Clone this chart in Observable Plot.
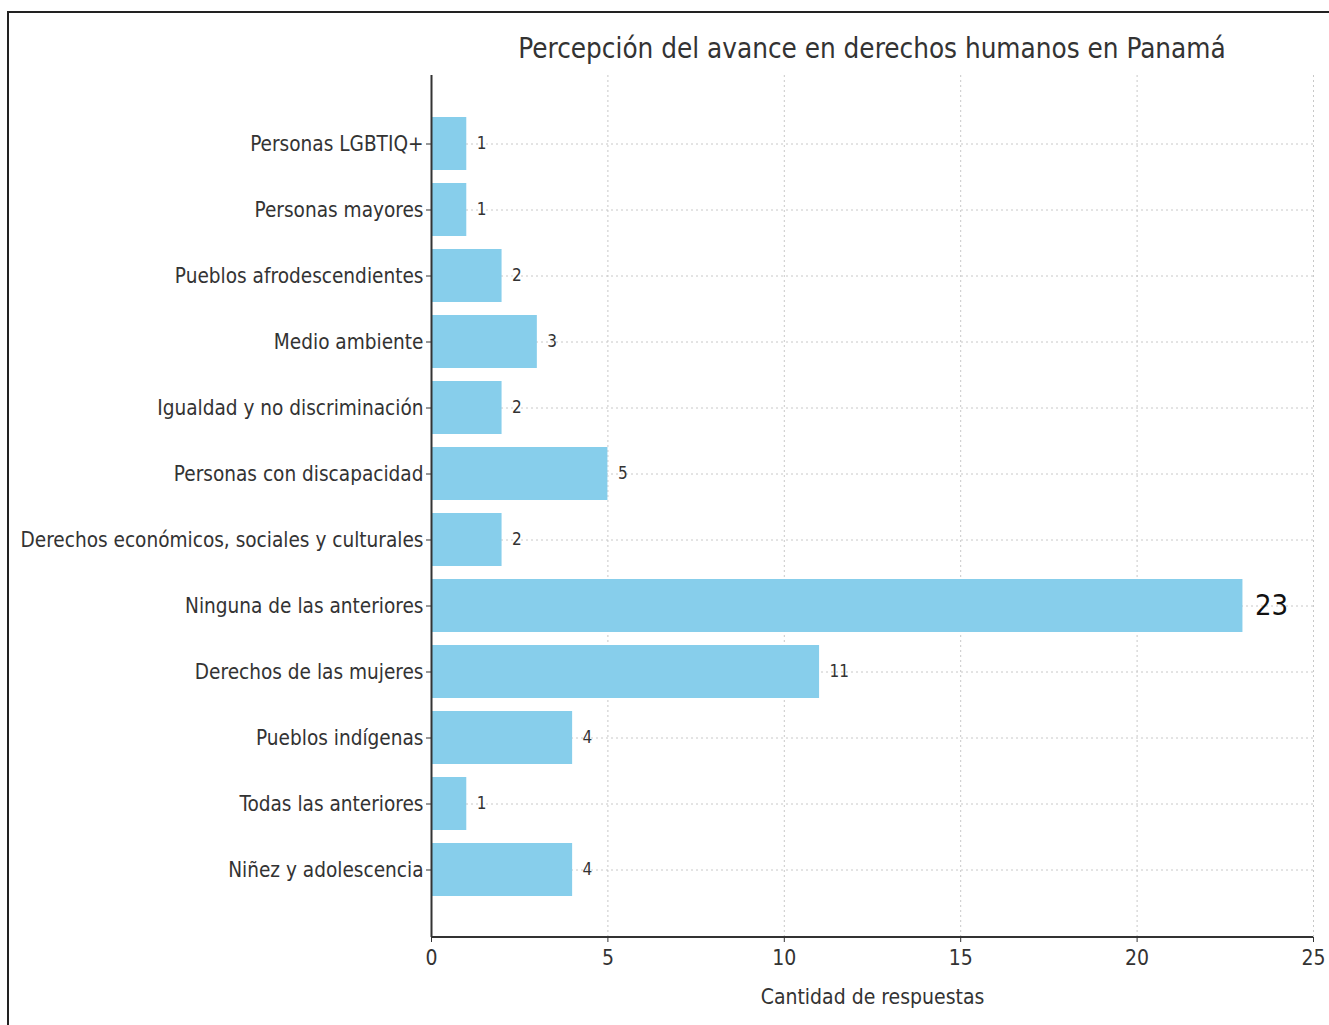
<!DOCTYPE html>
<html>
<head>
<meta charset="utf-8">
<script src="https://cdn.jsdelivr.net/npm/d3@7"></script>
<script src="https://cdn.jsdelivr.net/npm/@observablehq/plot@0.6"></script>
<style>
  html, body { margin: 0; padding: 0; background: #fff; }
  #wrap { position: relative; width: 1329px; height: 1025px; overflow: hidden; }
  #border { position: absolute; left: 7px; top: 11px; width: 1400px; height: 1100px;
            border-top: 2.5px solid #222; border-left: 2.5px solid #222; }
  #title { position: absolute; left: 431px; width: 882px; top: 32px; text-align: center;
           font-family: "DejaVu Sans Condensed", "DejaVu Sans", sans-serif; font-size: 27.6px;
           color: #333; }
  #chart { position: absolute; left: 0; top: 0; }
  #chart svg { font-family: "DejaVu Sans Condensed", "DejaVu Sans", sans-serif; }
</style>
</head>
<body>
<div id="wrap">
  <div id="border"></div>
  <div id="chart"></div>
  <div id="title">Percepción del avance en derechos humanos en Panamá</div>
</div>
<script>
const categories = [
  "Personas LGBTIQ+",
  "Personas mayores",
  "Pueblos afrodescendientes",
  "Medio ambiente",
  "Igualdad y no discriminación",
  "Personas con discapacidad",
  "Derechos económicos, sociales y culturales",
  "Ninguna de las anteriores",
  "Derechos de las mujeres",
  "Pueblos indígenas",
  "Todas las anteriores",
  "Niñez y adolescencia"
];
const counts = [1, 1, 2, 3, 2, 5, 2, 23, 11, 4, 1, 4];
const xTicks = [0, 5, 10, 15, 20, 25];
const xLabel = "Cantidad de respuestas";

const data = categories.map((c, i) => ({category: c, count: counts[i]}));
const maxCount = d3.max(counts);

const bottomSpine = (index, scales, values, dim) => {
  const g = d3.create("svg:line")
    .attr("x1", dim.marginLeft)
    .attr("x2", dim.width - dim.marginRight)
    .attr("y1", dim.height - dim.marginBottom)
    .attr("y2", dim.height - dim.marginBottom)
    .attr("stroke", "#333")
    .attr("stroke-width", 2);
  return g.node();
};

const chart = Plot.plot({
  width: 1329,
  height: 1025,
  marginLeft: 431,
  marginRight: 16,
  marginTop: 75,
  marginBottom: 88,
  style: {background: "transparent", color: "#333"},
  x: {domain: [0, 25], label: null},
  y: {domain: categories, padding: 0.2, paddingOuter: 0.6, label: null},
  marks: [
    Plot.gridX(xTicks, {stroke: "#c8c8c8", strokeOpacity: 1, strokeDasharray: "2,3", strokeWidth: 1}),
    Plot.ruleY(categories, {y: d => d, x1: 0, x2: 25, stroke: "#c8c8c8", strokeDasharray: "2,3", strokeWidth: 1}),
    Plot.barX(data, {x: "count", y: "category", fill: "#87CEEB"}),
    Plot.ruleX([0], {stroke: "#333", strokeWidth: 2}),
    bottomSpine,
    Plot.axisY({tickSize: 5, tickPadding: 3, fontSize: 20.6, label: null, stroke: "#333"}),
    Plot.axisX(xTicks, {tickSize: 5, tickPadding: 8, fontSize: 21, label: null, stroke: "#333"}),
    Plot.text([xLabel], {frameAnchor: "bottom", dy: 66, fontSize: 21, fill: "#333"}),
    Plot.text(data.filter(d => d.count !== maxCount), {x: "count", y: "category", text: d => String(d.count), dx: 10, textAnchor: "start", fontSize: 17, fill: "#333"}),
    Plot.text(data.filter(d => d.count === maxCount), {x: "count", y: "category", text: d => String(d.count), dx: 12, textAnchor: "start", fontSize: 29, fill: "#111"})
  ]
});
document.getElementById("chart").appendChild(chart);
</script>
</body>
</html>
